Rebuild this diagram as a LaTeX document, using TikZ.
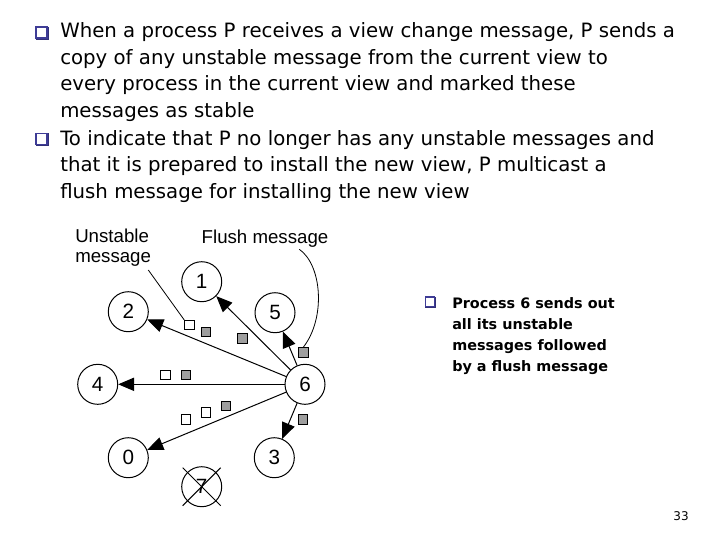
\documentclass[tikz,border=0pt]{standalone}
\usepackage{fontspec}
\setmainfont{DejaVu Sans}
\newfontfamily\helv{Liberation Sans}
\usetikzlibrary{arrows.meta,calc,shadows}
\definecolor{bulletblue}{RGB}{62,60,150}
\definecolor{msggray}{RGB}{158,158,158}
\begin{document}
\begin{tikzpicture}[x=0.75pt,y=-0.75pt,
  proc/.style={circle,draw,line width=0.75pt,minimum size=30pt,inner sep=0pt,font=\helv\fontsize{15.5}{16}\selectfont},
  sendarrow/.style={line width=0.75pt,-{Triangle[length=12pt,width=10pt]}},
  unstablemsg/.style={draw,fill=white,line width=0.6pt,minimum size=7pt,inner sep=0pt},
  flushmsg/.style={unstablemsg,fill=msggray},
  bigline/.style={anchor=base west,inner sep=0pt,font=\fontsize{14.8}{17}\selectfont},
  smallline/.style={anchor=base west,inner sep=0pt,font=\bfseries\fontsize{10.8}{13}\selectfont},
  bulletsq/.style={draw=bulletblue,line width=1.1pt,fill=white,inner sep=0pt,minimum size=#1,
    copy shadow={shadow xshift=0.6pt,shadow yshift=-0.6pt,draw=bulletblue!80!black,fill=white}},
  lbl/.style={inner sep=0pt,font=\helv\fontsize{14}{16.2}\selectfont},
  leader/.style={line width=0.6pt}
]
\useasboundingbox (0,0) rectangle (720,540);

% ---- top bullets and text ----
\node[bulletsq=8.5pt] (b1) at (41.5,32.5) {};
\node[bulletsq=8.5pt] (b2) at (41.5,139) {};
\node[bigline] (t1) at (60,37.5) {When a process P receives a view change message, P sends a};
\node[bigline] (t2) at (60,64) {copy of any unstable message from the current view to};
\node[bigline] (t3) at (60,90.5) {every process in the current view and marked these};
\node[bigline] (t4) at (60,117) {messages as stable};
\node[bigline] (t5) at (60,145) {To indicate that P no longer has any unstable messages and};
\node[bigline] (t6) at (60,171.5) {that it is prepared to install the new view, P multicast a};
\node[bigline] (t7) at (60,198) {flush message for installing the new view};

% ---- right side text ----
\node[bulletsq=7pt] (b3) at (430,301.7) {};
\node[smallline] (r1) at (452,308) {Process 6 sends out};
\node[smallline] (r2) at (452,329) {all its unstable};
\node[smallline] (r3) at (452,350) {messages followed};
\node[smallline] (r4) at (452,371) {by a flush message};

% ---- processes ----
\node[proc] (p1) at (201.7,281.7) {1};
\node[proc] (p2) at (128.3,311.7) {2};
\node[proc] (p5) at (275,312.7) {5};
\node[proc] (p4) at (97.7,384.3) {4};
\node[proc] (p6) at (305,384.3) {6};
\node[proc] (p0) at (128.3,457.7) {0};
\node[proc] (p3) at (274.3,457.7) {3};
\node[proc] (p7) at (201.7,486.7) {7};
\draw[line width=0.75pt] ($(p7)+(-19,-19)$) -- ($(p7)+(19,19)$);
\draw[line width=0.75pt] ($(p7)+(19,-19)$) -- ($(p7)+(-19,19)$);

% ---- arrows ----
\draw[sendarrow] (p6) -- (p1);
\draw[sendarrow] (p6) -- (p2);
\draw[sendarrow] (p6) -- (p5);
\draw[sendarrow] (p6) -- (p4);
\draw[sendarrow] (p6) -- (p0);
\draw[sendarrow] (p6) -- (p3);

% ---- messages ----
\node[unstablemsg] (s1) at (189.3,325) {};
\node[flushmsg] (s2) at (205.7,331.7) {};
\node[flushmsg] (s3) at (242.3,338.3) {};
\node[flushmsg] (s4) at (303.3,352.3) {};
\node[unstablemsg] (s5) at (165.3,375) {};
\node[flushmsg] (s6) at (186,375) {};
\node[unstablemsg] (s7) at (186,419.3) {};
\node[unstablemsg] (s8) at (205.7,412.3) {};
\node[flushmsg] (s9) at (226,405.7) {};
\node[flushmsg] (s10) at (302.7,419.3) {};

% ---- labels ----
\node[lbl,anchor=west,align=left] (lu) at (75,247.5) {Unstable\\[-1pt]message};
\node[lbl] (lf) at (265,238.3) {Flush message};
\coordinate (lustart) at (148.3,270);
\coordinate (lfstart) at (299.3,249.3);
\draw[leader] (lustart) -- (s1.north west);
\draw[leader] (lfstart) .. controls (322,265) and (326,318) .. (s4.north);

% ---- page number ----
\node[inner sep=0pt,font=\fontsize{9}{10}\selectfont] (pg) at (681,516) {33};
\end{tikzpicture}
\end{document}
